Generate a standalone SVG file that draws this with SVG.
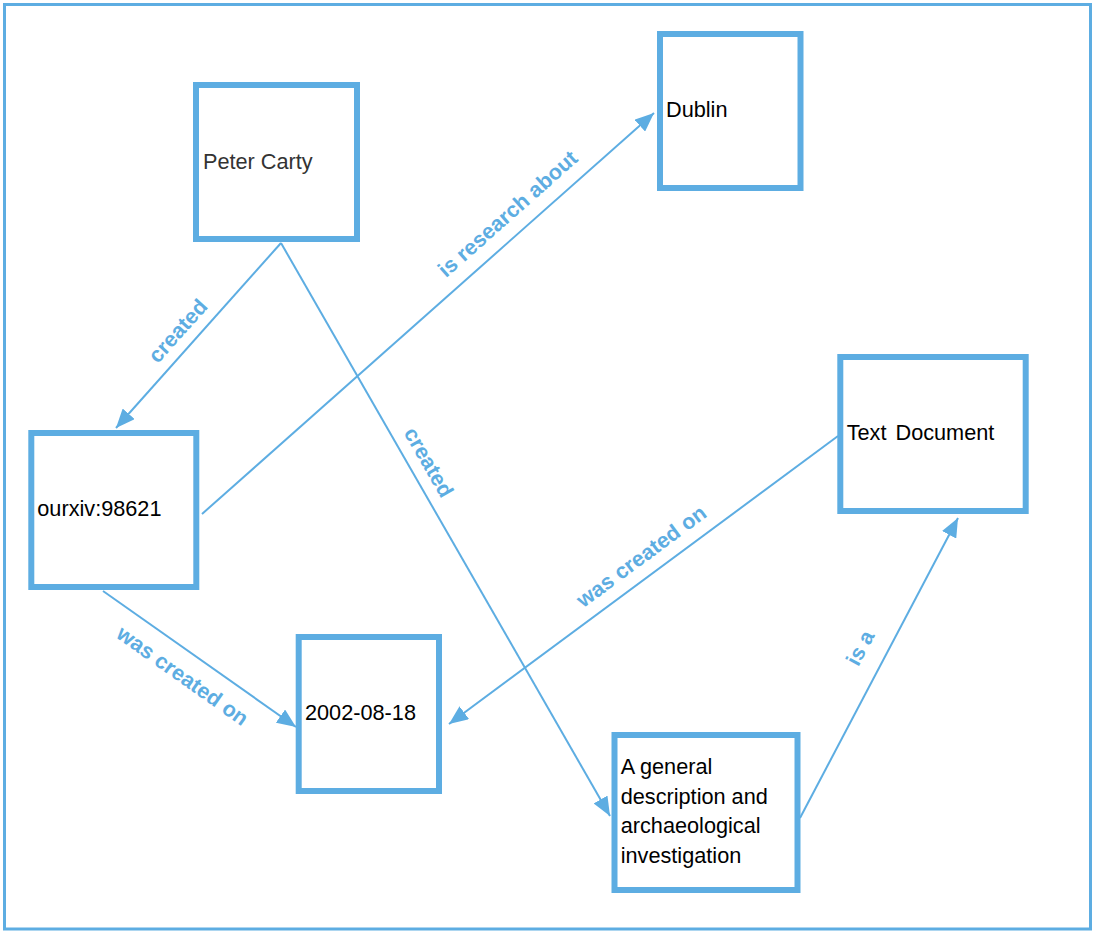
<svg xmlns="http://www.w3.org/2000/svg" width="1097" height="936" viewBox="0 0 1097 936">
<style>
.frame{fill:#fff;stroke:#5dade2;stroke-width:3}
.box{fill:#fff;stroke:#5dade2;stroke-width:6}
.nt{font-family:"Liberation Sans",Arial,sans-serif;font-size:21.7px;fill:#000}
.edge{stroke:#5dade2;stroke-width:2;fill:none;marker-end:url(#arr)}
.lbl{font-family:"Liberation Sans",Arial,sans-serif;font-size:21.5px;font-weight:bold;fill:#5dade2;text-anchor:middle}
</style>
<defs>
<marker id="arr" markerUnits="userSpaceOnUse" markerWidth="20" markerHeight="16" refX="19" refY="8" orient="auto">
<path d="M0,0 L19,8 L0,16 Z" fill="#5dade2"/>
</marker>
</defs>
<rect class="frame" x="4.5" y="4.5" width="1086" height="924.5"/>
<g id="connectors">
<line class="edge" x1="281" y1="243" x2="116" y2="428"/>
<line class="edge" x1="281" y1="243" x2="610" y2="816"/>
<line class="edge" x1="202" y1="514" x2="654" y2="113"/>
<line class="edge" x1="103" y1="591" x2="296" y2="727"/>
<line class="edge" x1="838" y1="436" x2="449" y2="724"/>
<line class="edge" x1="800" y1="818" x2="958" y2="518"/>
<text class="lbl" transform="translate(178,331) rotate(-48.1)" dy="7">created</text>
<text class="lbl" transform="translate(428.5,462.5) rotate(60)" dy="7">created</text>
<text class="lbl" transform="translate(508,214) rotate(-41.6)" dy="7">is research about</text>
<text class="lbl" transform="translate(182.5,676) rotate(35.3)" dy="7">was created on</text>
<text class="lbl" transform="translate(641.5,556.5) rotate(-36.5)" dy="7">was created on</text>
<text class="lbl" transform="translate(860.5,648) rotate(-62.2)" dy="7">is a</text>
</g>
<g id="node-peter-carty">
<rect class="box" x="196" y="85" width="161" height="154"/>
<text class="nt" x="203" y="169" style="fill:#333">Peter Carty</text>
</g>
<g id="node-dublin">
<rect class="box" x="660" y="34" width="140.5" height="154"/>
<text class="nt" x="666" y="117">Dublin</text>
</g>
<g id="node-ourxiv">
<rect class="box" x="31.3" y="433" width="165" height="154"/>
<text class="nt" x="37.3" y="516">ourxiv:98621</text>
</g>
<g id="node-text-document">
<rect class="box" x="840.3" y="357" width="185.4" height="154"/>
<text class="nt" x="846.7" y="440" word-spacing="3">Text Document</text>
</g>
<g id="node-date">
<rect class="box" x="298.7" y="637" width="140.3" height="154"/>
<text class="nt" x="305" y="720">2002-08-18</text>
</g>
<g id="node-general">
<rect class="box" x="614.5" y="735" width="183" height="155"/>
<text class="nt" x="620.7" y="774.3">A general</text>
<text class="nt" x="620.7" y="803.8">description and</text>
<text class="nt" x="620.7" y="833.3">archaeological</text>
<text class="nt" x="620.7" y="862.8">investigation</text>
</g>
</svg>
